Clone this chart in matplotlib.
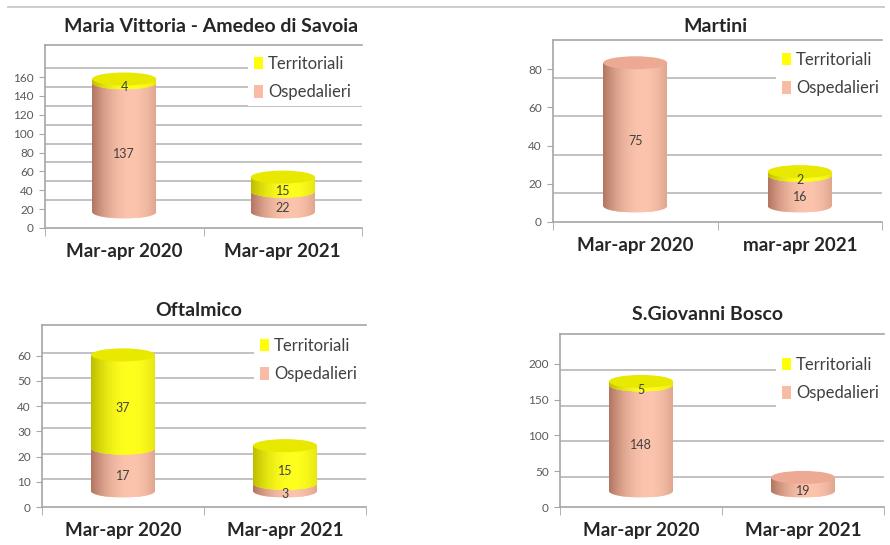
import numpy as np
import matplotlib
matplotlib.use('Agg')
import matplotlib.pyplot as plt
from matplotlib.patches import Ellipse, Patch
from matplotlib.lines import Line2D

plt.rcParams['font.family'] = ['Lato', 'DejaVu Sans']

# dati
series_names = ['Territoriali', 'Ospedalieri']

cat_mv = ['Mar-apr 2020', 'Mar-apr 2021']
osp_mv = [137, 22]
terr_mv = [4, 15]

cat_martini = ['Mar-apr 2020', 'mar-apr 2021']
osp_martini = [75, 16]
terr_martini = [0, 2]

cat_oft = ['Mar-apr 2020', 'Mar-apr 2021']
osp_oft = [17, 3]
terr_oft = [37, 15]

cat_sgb = ['Mar-apr 2020', 'Mar-apr 2021']
osp_sgb = [148, 19]
terr_sgb = [5, 0]

W, H = 890, 545
fig = plt.figure(figsize=(W / 100, H / 100), dpi=100)
fig.patch.set_facecolor('white')

GRID = '#bdbdbd'
AXC = '#a6a6a6'
TXT = '#404040'

# colori cilindri: (chiaro, scuro, coperchio)
PINK = (np.array([252, 196, 172]) / 255, np.array([178, 118, 98]) / 255, np.array([236, 170, 148]) / 255)
YELLOW = (np.array([255, 255, 30]) / 255, np.array([190, 190, 0]) / 255, np.array([232, 232, 0]) / 255)


def px_rect(l, t, r, b):
    return [l / W, 1 - b / H, (r - l) / W, (b - t) / H]


def gradient(col, n=64):
    light, dark = col[0], col[1]
    t = np.linspace(0, 1, n)
    p = np.clip(1 - ((t - 0.62) / 0.62) ** 2, 0, 1)
    cols = dark + (light - dark) * p[:, None]
    return cols[None, :, :]


def draw_cylinder(ax, xc, w, base, values, colors, ell_h, z=2):
    y = base
    last = None
    for v, c in zip(values, colors):
        if v <= 0:
            continue
        grad = gradient(c)
        e = Ellipse((xc, y), w, ell_h, facecolor=c[0], edgecolor='none', zorder=z)
        ax.add_patch(e)
        im = ax.imshow(grad, extent=(xc - w / 2, xc + w / 2, y - ell_h / 2, y + ell_h / 2),
                       aspect='auto', interpolation='bilinear', zorder=z + 0.01)
        im.set_clip_path(e)
        bar = ax.bar(xc, v, width=w, bottom=y, color=c[0], linewidth=0, zorder=z + 0.02)[0]
        im2 = ax.imshow(grad, extent=(xc - w / 2, xc + w / 2, y, y + v),
                        aspect='auto', interpolation='bilinear', zorder=z + 0.03)
        im2.set_clip_path(bar)
        # etichetta del valore
        ax.text(xc, y + v / 2 - ell_h / 2, str(v), ha='center', va='center',
                fontsize=9, color=TXT, zorder=z + 5)
        y += v
        z += 1
        last = c
    if last is not None:
        ax.add_patch(Ellipse((xc, y), w, ell_h, facecolor=last[2], edgecolor='none', zorder=z + 0.5))


def draw_panel(box, title, title_xy, cats, osp, terr, ymax, yticks, grid_off, legend_xy):
    l, t, r, b = box
    ax = fig.add_axes(px_rect(l, t, r, b))
    ax.set_facecolor('none')
    upp = ymax / (b - t)  # unita per pixel
    ell_h = 13 * upp
    base = 16 * upp
    w = 64 / ((r - l) / 2)

    # pareti di fondo
    grid_y = [v + grid_off * upp for v in yticks if v > 0]
    ax.hlines(grid_y, 0, 2, color=GRID, lw=1.3, zorder=0.5)

    for i in range(len(cats)):
        draw_cylinder(ax, i + 0.5, w, base, [osp[i], terr[i]], [PINK, YELLOW], ell_h)

    ax.set_xlim(0, 2)
    ax.set_ylim(0, ymax)
    ax.set_aspect('auto')

    for s in ['left', 'bottom', 'top']:
        ax.spines[s].set_color(AXC)
        ax.spines[s].set_linewidth(1.2)
    ax.spines['right'].set_visible(False)

    ax.set_yticks(yticks)
    ax.tick_params(axis='y', length=4, color=AXC, labelsize=8.5, labelcolor='#595959', pad=4)
    ax.set_xticks([0.5, 1.5], cats)
    ax.tick_params(axis='x', which='major', length=0, pad=11, labelsize=13.5, labelcolor='#262626')
    for lab in ax.get_xticklabels():
        lab.set_fontweight('bold')
    ax.set_xticks([0, 1, 2], minor=True)
    ax.tick_params(axis='x', which='minor', length=6, color=AXC)

    fig.text(title_xy[0] / W, 1 - title_xy[1] / H, title, ha='center', va='center',
             fontsize=14, fontweight='bold', color='#262626')

    handles = [Patch(facecolor=(1, 1, 0)), Patch(facecolor=(248 / 255, 188 / 255, 166 / 255))]
    lx, ly = legend_xy
    ax.legend(handles, series_names, loc='upper left', mode='expand',
              bbox_to_anchor=(lx / W, 1 - ly / H, (r - lx) / W, 0), bbox_transform=fig.transFigure,
              frameon=True, facecolor='white', edgecolor='none', framealpha=1, fancybox=False,
              fontsize=12, handlelength=0.55, handleheight=0.75, handletextpad=0.3,
              labelspacing=0.75, borderpad=0.35, borderaxespad=0, labelcolor=TXT)
    return ax


draw_panel((45, 45, 362, 228), 'Maria Vittoria - Amedeo di Savoia', (211, 27),
           cat_mv, osp_mv, terr_mv, 194, list(range(0, 161, 20)), 9, (248, 50))
draw_panel((553, 40, 882, 222), 'Martini', (715, 27),
           cat_martini, osp_martini, terr_martini, 95.3, list(range(0, 81, 20)), -9, (776, 46))
draw_panel((42, 325, 366, 507), 'Oftalmico', (199, 310),
           cat_oft, osp_oft, terr_oft, 72.2, list(range(0, 61, 10)), 3, (254, 332))
draw_panel((560, 334, 884, 507), 'S.Giovanni Bosco', (708, 314),
           cat_sgb, osp_sgb, terr_sgb, 241.6, list(range(0, 201, 50)), -6, (776, 351))

# linea in alto
fig.add_artist(Line2D([8 / W, 884 / W], [1 - 7 / H, 1 - 7 / H], color='#c8c8c8', lw=1.3))

fig.savefig('out.png', dpi=100)
